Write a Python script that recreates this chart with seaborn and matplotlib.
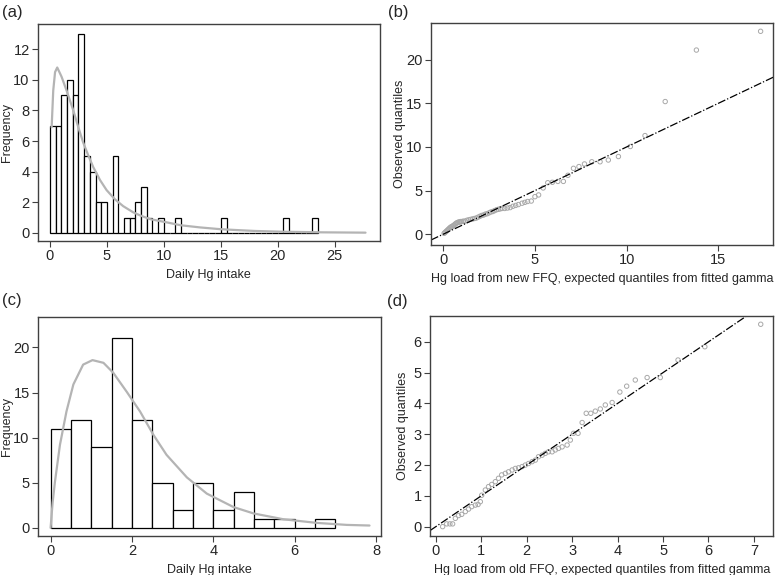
import numpy as np
import pandas as pd
import matplotlib
matplotlib.use("Agg")
import matplotlib.pyplot as plt
import seaborn as sns

# Histogram (a): new FFQ, bins of 0.5 from 0 to 23.5
bins_a = [i * 0.5 for i in range(48)]
counts_a = [7, 7, 9, 10, 9, 13, 5, 4, 2, 2, 0, 5, 0, 1, 1, 2, 3, 1, 0, 1,
            0, 0, 1, 0, 0, 0, 0, 0, 0, 0, 1, 0, 0, 0, 0, 0, 0, 0, 0, 0,
            0, 1, 0, 0, 0, 0, 1]

# fitted gamma curve (a)
curve_a_x = [0.15, 0.29, 0.45, 0.64, 1.02, 1.46, 2.05, 2.49, 2.92, 3.4, 3.8, 4.4,
             4.97, 5.7, 6.43, 7.3, 7.9, 8.8, 10.2, 11.5, 13.2, 14.9, 16.1, 18.0,
             20.4, 24.0, 27.7]
curve_a_y = [6.9, 9.3, 10.5, 10.8, 10.2, 9.3, 8.0, 6.9, 5.9, 5.0, 4.3, 3.45,
             2.8, 2.2, 1.75, 1.35, 1.15, 0.9, 0.7, 0.5, 0.36, 0.25, 0.2, 0.13,
             0.08, 0.04, 0.02]

# Histogram (c): old FFQ, bins of 0.5 from 0 to 7
bins_c = [i * 0.5 for i in range(15)]
counts_c = [11, 12, 9, 21, 12, 5, 2, 5, 2, 4, 1, 1, 0, 1]

curve_c_x = [0.0, 0.05, 0.107, 0.23, 0.39, 0.56, 0.8, 1.03, 1.3, 1.54, 1.87, 2.2,
             2.53, 2.85, 3.35, 3.84, 4.5, 4.99, 5.73, 6.55, 7.28, 7.84]
curve_c_y = [0.0, 2.8, 5.1, 9.2, 12.9, 15.9, 18.1, 18.6, 18.3, 17.2, 15.1, 12.9,
             10.3, 8.1, 5.6, 3.8, 2.3, 1.6, 0.95, 0.55, 0.33, 0.26]

# Q-Q (b): expected gamma quantiles vs observed quantiles, new FFQ
qq_b_x = [0.05, 0.1, 0.15, 0.2, 0.25, 0.3, 0.35, 0.4, 0.45, 0.5, 0.55, 0.6, 0.65,
          0.7, 0.75, 0.8, 0.85, 0.9, 0.95, 1.0, 1.1, 1.2, 1.3, 1.4, 1.5, 1.6,
          1.7, 1.8, 1.9, 2.0, 2.1, 2.2, 2.3, 2.4, 2.5, 2.6, 2.7, 2.8, 2.9, 3.0,
          3.1, 3.2, 3.35, 3.5, 3.65, 3.8, 3.95, 4.1, 4.3, 4.45, 4.6, 4.8, 5.0,
          5.2, 5.45, 5.7, 5.95, 6.25, 6.55, 6.8, 7.1, 7.4, 7.7, 8.1, 8.55, 9.0,
          9.55, 10.2, 11.0, 12.1, 13.8, 17.3]
qq_b_y = [0.1, 0.2, 0.3, 0.4, 0.5, 0.6, 0.7, 0.8, 0.85, 0.9, 1.0, 1.05, 1.15,
          1.25, 1.3, 1.35, 1.4, 1.4, 1.45, 1.45, 1.5, 1.5, 1.6, 1.65, 1.7, 1.75,
          1.8, 1.85, 1.95, 2.05, 2.15, 2.2, 2.3, 2.35, 2.45, 2.55, 2.6, 2.7, 2.8,
          2.85, 2.9, 2.95, 2.95, 3.0, 3.05, 3.2, 3.3, 3.4, 3.55, 3.65, 3.75, 3.8,
          4.3, 4.5, 5.3, 5.9, 5.95, 6.05, 6.05, 6.75, 7.55, 7.75, 8.05, 8.3, 8.3,
          8.5, 8.9, 10.05, 11.3, 15.2, 21.1, 23.25]

# Q-Q (d): old FFQ
qq_d_x = [0.15, 0.24, 0.31, 0.37, 0.43, 0.5, 0.57, 0.65, 0.72, 0.79, 0.87, 0.93,
          0.98, 1.01, 1.09, 1.16, 1.23, 1.31, 1.38, 1.45, 1.53, 1.6, 1.68, 1.75,
          1.82, 1.9, 1.97, 2.04, 2.12, 2.19, 2.26, 2.34, 2.41, 2.48, 2.56, 2.63,
          2.7, 2.78, 2.89, 2.96, 3.03, 3.13, 3.22, 3.31, 3.41, 3.51, 3.62, 3.73,
          3.88, 4.05, 4.2, 4.39, 4.65, 4.94, 5.33, 5.92, 7.15]
qq_d_y = [0.0, 0.09, 0.09, 0.09, 0.27, 0.36, 0.4, 0.49, 0.57, 0.65, 0.7, 0.72,
          0.81, 1.02, 1.19, 1.3, 1.37, 1.46, 1.57, 1.68, 1.73, 1.78, 1.84, 1.89,
          1.91, 1.95, 2.0, 2.05, 2.11, 2.16, 2.27, 2.32, 2.38, 2.43, 2.43, 2.49,
          2.54, 2.59, 2.65, 2.81, 3.03, 3.03, 3.38, 3.68, 3.68, 3.75, 3.82, 3.95,
          4.03, 4.37, 4.56, 4.76, 4.84, 4.84, 5.41, 5.84, 6.57]

sns.set_style("white")
plt.rcParams['font.family'] = ['Liberation Sans', 'DejaVu Sans']
plt.rcParams['font.size'] = 10

fig = plt.figure(figsize=(7.75, 5.75), dpi=100)
ax_a = fig.add_axes([0.049, 0.581, 0.441, 0.377])
ax_b = fig.add_axes([0.556, 0.574, 0.442, 0.386])
ax_c = fig.add_axes([0.049, 0.068, 0.443, 0.381])
ax_d = fig.add_axes([0.555, 0.068, 0.443, 0.382])

curve_col = '#b4b4b4'
pt_col = '#a8a8a8'


def draw_hist(ax, bins, counts, cx, cy):
    df = pd.DataFrame({'x': [b + 0.25 for b in bins[:-1]], 'w': counts})
    sns.histplot(data=df, x='x', weights='w', bins=bins, ax=ax, color='white',
                 edgecolor='black', linewidth=0.9, alpha=1)
    sns.lineplot(x=cx, y=cy, ax=ax, color=curve_col, linewidth=1.6, sort=False)
    ax.set_xlabel('Daily Hg intake')
    ax.set_ylabel('Frequency')


def draw_qq(ax, qx, qy, xlabel):
    sns.scatterplot(x=qx, y=qy, ax=ax, marker='o', s=10, facecolor='none',
                    edgecolor=pt_col, linewidth=0.7)
    ax.axline((0, 0), slope=1, color='black', linewidth=0.9, linestyle='-.')
    ax.set_xlabel(xlabel)
    ax.set_ylabel('Observed quantiles')


draw_hist(ax_a, bins_a, counts_a, curve_a_x, curve_a_y)
ax_a.set_xlim(-1.05, 28.95)
ax_a.set_ylim(-0.52, 13.63)
ax_a.set_xticks([0, 5, 10, 15, 20, 25])
ax_a.set_yticks([0, 2, 4, 6, 8, 10, 12])

draw_qq(ax_b, qq_b_x, qq_b_y, 'Hg load from new FFQ, expected quantiles from fitted gamma')
ax_b.set_xlim(-0.67, 18.0)
ax_b.set_ylim(-1.23, 24.2)
ax_b.set_xticks([0, 5, 10, 15])
ax_b.set_yticks([0, 5, 10, 15, 20])

draw_hist(ax_c, bins_c, counts_c, curve_c_x, curve_c_y)
ax_c.set_xlim(-0.31, 8.13)
ax_c.set_ylim(-0.89, 23.4)
ax_c.set_xticks([0, 2, 4, 6, 8])
ax_c.set_yticks([0, 5, 10, 15, 20])

draw_qq(ax_d, qq_d_x, qq_d_y, 'Hg load from old FFQ, expected quantiles from fitted gamma')
ax_d.set_xlim(-0.125, 7.43)
ax_d.set_ylim(-0.30, 6.83)
ax_d.set_xticks(range(8))
ax_d.set_yticks(range(7))

for ax in [ax_a, ax_b, ax_c, ax_d]:
    for s in ax.spines.values():
        s.set_color('#404040')
        s.set_linewidth(1.0)
    ax.tick_params(axis='both', which='both', direction='out', length=4,
                   width=0.8, color='#404040', labelsize=10.5, pad=2,
                   bottom=True, left=True, top=False, right=False)
    ax.xaxis.label.set_size(9.0)
    ax.yaxis.label.set_size(9.0)
    ax.xaxis.labelpad = 4

# y label positions (axes fraction)
ax_a.yaxis.set_label_coords(-0.072, 0.5)
ax_c.yaxis.set_label_coords(-0.072, 0.5)
ax_b.yaxis.set_label_coords(-0.073, 0.5)
ax_d.yaxis.set_label_coords(-0.062, 0.5)

fig.text(0.002, 0.979, '(a)', fontsize=12, va='center', ha='left')
fig.text(0.501, 0.979, '(b)', fontsize=12, va='center', ha='left')
fig.text(0.002, 0.478, '(c)', fontsize=12, va='center', ha='left')
fig.text(0.499, 0.475, '(d)', fontsize=12, va='center', ha='left')

fig.savefig('out.png', dpi=100)
